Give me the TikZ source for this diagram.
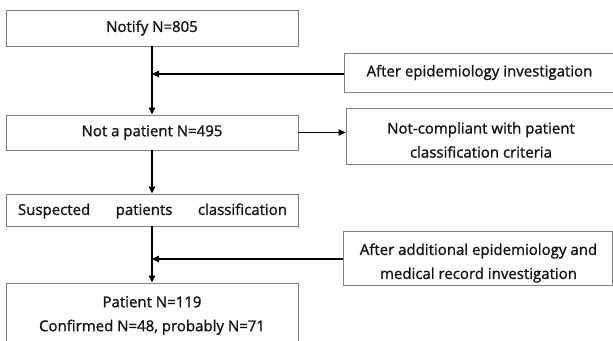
\documentclass[tikz,border=0pt]{standalone}
\usepackage{fontspec}
\setmainfont{Open Sans}[FakeBold=1.2]
\usetikzlibrary{arrows.meta}
\begin{document}
\begin{tikzpicture}[x=1pt,y=-1pt,
  box/.style={draw=black!50, line width=0.9pt, fill=white, inner sep=0pt},
  txt/.style={text=black!92, font=\fontsize{15}{24}\selectfont, align=center, inner sep=0pt},
  conn/.style={draw=black, line width=1.1pt, -{Triangle[length=7pt,width=6.5pt]}}]
\useasboundingbox (0,0) rectangle (613,340);
\clip (0,0) rectangle (613,340);
% left column
\node[box, minimum width=292pt, minimum height=36pt] (n1) at (152,28) {};
\node[txt] (n1t) at (152,28) {Notify N=805};
\node[box, minimum width=292pt, minimum height=35pt] (n2) at (152,132.5) {};
\node[txt] (n2t) at (152,132.5) {Not a patient N=495};
\node[box, minimum width=292pt, minimum height=32pt] (n3) at (152,210) {};
\node[txt, text width=269pt] (n3t) at (152.5,211) {Suspected\hfill patients\hfill classification};
\node[box, minimum width=292pt, minimum height=65pt] (n4) at (152,315.5) {};
\node[txt] (n4t) at (152,315.5) {Patient N=119\\Confirmed N=48, probably N=71};
% right column
\node[box, minimum width=271pt, minimum height=39pt] (r1) at (479.5,72.5) {};
\node[txt] (r1t) at (479.5,72.5) {After epidemiology investigation};
\node[box, minimum width=270pt, minimum height=56pt] (r2) at (481,136) {};
\node[txt] (r2t) at (481,140) {Not-compliant with patient\\classification criteria};
\node[box, minimum width=269pt, minimum height=54pt] (r3) at (477.5,258) {};
\node[txt] (r3t) at (478.5,263) {After additional epidemiology and\\medical record investigation};
% connectors
\draw[conn] ([yshift=-1.5pt]r1.west) -- ([yshift=-1.5pt]r1.west -| n1.south);
\draw[conn] (n2.east) -- (n2.east -| r2.west);
\draw[conn] ([yshift=-1pt]r3.west) -- ([yshift=-1pt]r3.west -| n3.south);
\draw[conn] (n1.south) -- (n2.north);
\draw[conn] (n2.south) -- (n3.north);
\draw[conn] (n3.south) -- (n4.north);
\end{tikzpicture}
\end{document}
